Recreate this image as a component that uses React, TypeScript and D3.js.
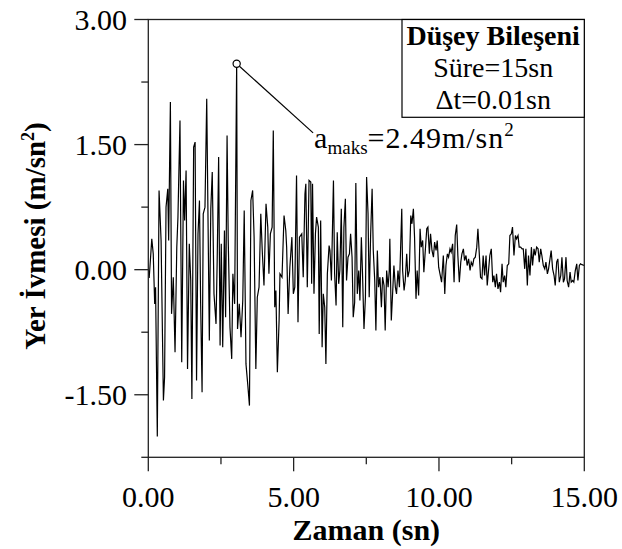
import React from "react";
import * as d3 from "d3";

const times: number[] = [
  0.0, 0.03, 0.06, 0.12, 0.17, 0.22, 0.25, 0.31, 0.37, 0.44, 0.52, 0.56, 0.61, 0.67, 0.7, 0.76, 0.8, 0.86, 0.92, 0.98,
  1.02, 1.09, 1.15, 1.21, 1.25, 1.3, 1.35, 1.41, 1.46, 1.5, 1.56, 1.61, 1.66, 1.71, 1.76, 1.8, 1.85, 1.89, 1.95, 2.01,
  2.07, 2.1, 2.15, 2.2, 2.26, 2.33, 2.37, 2.42, 2.47, 2.51, 2.56, 2.62, 2.66, 2.71, 2.75, 2.81, 2.87, 2.91, 2.97, 3.04,
  3.07, 3.13, 3.19, 3.25, 3.3, 3.36, 3.42, 3.48, 3.53, 3.59, 3.64, 3.7, 3.75, 3.81, 3.87, 3.92, 3.98, 4.05, 4.11, 4.15,
  4.2, 4.26, 4.3, 4.35, 4.39, 4.44, 4.5, 4.53, 4.6, 4.67, 4.73, 4.76, 4.81, 4.87, 4.94, 4.99, 5.04, 5.1, 5.15, 5.2,
  5.28, 5.33, 5.39, 5.42, 5.47, 5.53, 5.59, 5.62, 5.65, 5.7, 5.75, 5.79, 5.85, 5.88, 5.93, 5.98, 6.02, 6.07, 6.11, 6.16,
  6.22, 6.25, 6.3, 6.37, 6.41, 6.46, 6.5, 6.55, 6.59, 6.64, 6.69, 6.73, 6.78, 6.82, 6.87, 6.92, 6.96, 7.01, 7.05, 7.1,
  7.14, 7.19, 7.24, 7.28, 7.33, 7.37, 7.42, 7.47, 7.51, 7.56, 7.6, 7.65, 7.7, 7.74, 7.79, 7.83, 7.88, 7.92, 7.97, 8.02,
  8.06, 8.11, 8.15, 8.2, 8.25, 8.29, 8.31, 8.36, 8.41, 8.45, 8.5, 8.54, 8.59, 8.64, 8.68, 8.72, 8.75, 8.8, 8.84, 8.89,
  8.93, 8.98, 9.03, 9.07, 9.12, 9.16, 9.21, 9.25, 9.3, 9.35, 9.39, 9.44, 9.48, 9.53, 9.58, 9.62, 9.67, 9.71, 9.76, 9.81,
  9.85, 9.9, 9.94, 9.99, 10.09, 10.15, 10.2, 10.24, 10.29, 10.33, 10.38, 10.42, 10.47, 10.52, 10.56, 10.61, 10.65, 10.7, 10.75, 10.79,
  10.84, 10.88, 10.93, 10.97, 11.02, 11.07, 11.11, 11.16, 11.2, 11.25, 11.3, 11.34, 11.39, 11.43, 11.48, 11.52, 11.57, 11.62, 11.66, 11.71,
  11.75, 11.8, 11.85, 11.89, 11.94, 11.98, 12.03, 12.08, 12.12, 12.17, 12.21, 12.26, 12.3, 12.35, 12.4, 12.44, 12.49, 12.53, 12.58, 12.63,
  12.67, 12.72, 12.76, 12.81, 12.86, 12.9, 12.95, 12.99, 13.04, 13.08, 13.13, 13.18, 13.22, 13.27, 13.31, 13.36, 13.41, 13.45, 13.5, 13.54,
  13.59, 13.64, 13.68, 13.73, 13.77, 13.82, 13.86, 13.91, 13.96, 14.0, 14.05, 14.09, 14.14, 14.19, 14.23, 14.28, 14.32, 14.37, 14.41, 14.46,
  14.51, 14.55, 14.6, 14.64, 14.69, 14.74, 14.78, 14.83, 14.87, 14.92, 15.0,
];

const accel: number[] = [
  0.0, -0.1, 0.05, 0.37, 0.19, -0.41, -0.21, -2.0, 0.95, 0.35, -1.57, -1.29, 0.75, 0.97, 0.35, 2.01, -0.53, -0.09, -0.99, 0.27,
  0.63, 1.79, -1.11, 1.07, 0.59, 1.19, -1.19, 0.31, -0.13, -1.55, 1.47, 1.53, -1.33, 0.43, 0.83, -0.39, -1.47, 0.67, 0.75, 2.05,
  0.11, -0.85, 0.73, 1.17, -0.29, -0.65, 0.11, 1.35, -0.91, 0.31, -0.93, 0.47, -0.57, 1.61, 0.35, -0.69, -1.07, -0.05, -0.41, 2.47,
  -0.71, -0.41, -0.81, -0.37, 0.71, -1.13, -1.37, -1.63, 0.83, 0.95, 0.39, -1.19, -0.33, -0.21, 0.67, 0.23, -0.19, 0.79, 0.51, -0.05,
  0.43, 0.51, 1.67, -0.45, -0.25, -1.23, -0.61, -0.05, -0.09, 0.65, 0.47, 0.27, -0.53, 0.03, 0.39, -0.29, -0.21, 1.13, -0.63, 0.39,
  0.43, -0.09, 0.91, 1.03, -0.21, 1.07, 1.05, -0.17, 1.03, -0.29, 0.43, 0.63, 0.51, -0.77, 0.59, -0.93, -0.29, -0.45, -1.13, -0.05,
  0.29, 0.23, -0.13, 1.07, -0.05, -0.43, 0.45, -0.17, -0.01, 0.73, -0.69, 0.51, 0.85, -0.13, 0.15, 0.19, 0.43, 0.15, -0.57, -0.39,
  1.04, -0.29, -0.01, -0.37, 0.39, -0.05, -0.71, -0.33, 1.11, 0.67, -0.33, 0.43, 0.97, 0.23, -0.13, -0.73, 0.23, -0.21, -0.09, -0.45,
  -0.09, -0.19, -0.73, -0.01, -0.21, -0.01, 0.37, -0.61, -0.25, 0.05, -0.21, -0.29, -0.01, -0.21, 0.25, 0.73, -0.01, -0.25, -0.13, 0.19,
  -0.09, -0.01, 0.65, 0.55, 0.73, 0.39, -0.35, -0.01, -0.31, 0.49, 0.27, 0.35, -0.03, 0.23, 0.49, 0.51, 0.19, 0.43, 0.23, 0.15,
  0.33, 0.23, 0.35, 0.03, -0.15, 0.17, -0.29, 0.05, 0.19, 0.15, 0.25, 0.21, 0.31, -0.15, 0.41, 0.54, 0.17, -0.15, 0.09, 0.19,
  0.25, 0.11, 0.17, 0.05, 0.13, -0.01, 0.09, 0.05, 0.13, 0.15, 0.27, 0.49, 0.17, -0.09, -0.11, 0.17, -0.07, 0.17, -0.19, 0.01,
  0.17, 0.25, -0.15, -0.07, -0.21, -0.05, -0.23, -0.15, -0.27, 0.07, -0.15, -0.07, -0.21, 0.05, 0.07, 0.41, 0.43, 0.51, 0.17, 0.41,
  0.37, 0.41, 0.27, 0.27, 0.25, 0.25, 0.01, 0.25, -0.19, 0.17, -0.07, 0.27, 0.05, 0.25, 0.17, 0.27, 0.25, 0.09, 0.25, 0.17,
  0.05, 0.01, 0.09, -0.05, 0.01, 0.13, 0.23, 0.01, -0.07, -0.19, 0.09, 0.13, -0.15, -0.07, 0.15, -0.15, -0.11, 0.15, -0.13, -0.21,
  -0.03, -0.15, -0.13, -0.15, -0.01, 0.07, -0.13, 0.05, 0.07, 0.06, 0.05,
];

const xMajorTicks = [0, 5, 10, 15];
const xMinorTicks = [2.5, 7.5, 12.5];
const yMajorTicks = [-1.5, 0, 1.5, 3];
const yMinorTicks = [-2.25, -0.75, 0.75, 2.25];

const xTitle = "Zaman (sn)";
const yTitle = "Yer İvmesi (m/sn";
const legendLines = ["Düşey Bileşeni", "Süre=15sn", "Δt=0.01sn"];
const peakT = 3.04;
const peakA = 2.47;
const leaderEnd = { t: 5.67, a: 1.64 };

const W = 622;
const H = 549;
const FONT = "'Liberation Serif','Times New Roman',serif";

export default function App() {
  const x = d3.scaleLinear().domain([0, 15]).range([148.3, 584.3]);
  const y = d3.scaleLinear().domain([-2.25, 3]).range([457.3, 19.5]);
  const pts: [number, number][] = times.map((t, i) => [t, accel[i]]);
  const line = d3
    .line<[number, number]>()
    .x((d) => x(d[0]))
    .y((d) => y(d[1]));
  const [x0, x1] = x.range();
  const [yb, yt] = y.range();
  const axisColor = "#222";

  return (
    <svg
      width={W}
      height={H}
      style={{ position: "absolute", left: 0, top: 0, background: "#fff" }}
      fontFamily={FONT}
    >
      <defs>
        <clipPath id="plotclip">
          <rect x={x0} y={yt} width={x1 - x0} height={yb - yt} />
        </clipPath>
      </defs>
      <rect x={0} y={0} width={W} height={H} fill="#fff" />
      <path
        d={line(pts) || ""}
        fill="none"
        stroke="#000"
        strokeWidth={1.2}
        strokeLinejoin="miter"
        clipPath="url(#plotclip)"
      />
      {/* frame */}
      <rect x={x0} y={yt} width={x1 - x0} height={yb - yt} fill="none" stroke={axisColor} strokeWidth={1.3} />
      {/* x ticks */}
      {xMajorTicks.map((t) => (
        <line key={"xM" + t} x1={x(t)} x2={x(t)} y1={yb} y2={yb + 14} stroke={axisColor} strokeWidth={1.3} />
      ))}
      {xMinorTicks.map((t) => (
        <line key={"xm" + t} x1={x(t)} x2={x(t)} y1={yb} y2={yb + 7} stroke={axisColor} strokeWidth={1.3} />
      ))}
      {xMajorTicks.map((t) => (
        <text key={"xl" + t} x={x(t)} y={506.7} fontSize={30} textAnchor="middle" fill="#000">
          {t.toFixed(2)}
        </text>
      ))}
      {/* y ticks */}
      {yMajorTicks.map((v) => (
        <line key={"yM" + v} x1={x0 - 14} x2={x0} y1={y(v)} y2={y(v)} stroke={axisColor} strokeWidth={1.3} />
      ))}
      {yMinorTicks.map((v) => (
        <line key={"ym" + v} x1={x0 - 7} x2={x0} y1={y(v)} y2={y(v)} stroke={axisColor} strokeWidth={1.3} />
      ))}
      {yMajorTicks.map((v) => (
        <text key={"yl" + v} x={127} y={y(v) + 10.5} fontSize={30} textAnchor="end" fill="#000">
          {v.toFixed(2)}
        </text>
      ))}
      {/* axis titles */}
      <text x={(x0 + x1) / 2} y={540} fontSize={30} fontWeight="bold" textAnchor="middle" fill="#000">
        {xTitle}
      </text>
      <text transform="translate(45,236) rotate(-90)" fontSize={29} fontWeight="bold" textAnchor="middle" fill="#000">
        {yTitle}
        <tspan fontSize={18} dy={-11}>2</tspan>
        <tspan dy={11}>)</tspan>
      </text>
      {/* legend box */}
      <rect x={402} y={yt} width={x1 - 402} height={117.3 - yt} fill="#fff" stroke="#000" strokeWidth={1.2} />
      {legendLines.map((s, i) => (
        <text
          key={s}
          x={(402 + x1) / 2}
          y={45 + i * 32}
          fontSize={28}
          fontWeight={i === 0 ? "bold" : "normal"}
          textAnchor="middle"
          fill="#000"
        >
          {s}
        </text>
      ))}
      {/* peak annotation */}
      <line
        x1={x(peakT)}
        y1={y(peakA)}
        x2={x(leaderEnd.t)}
        y2={y(leaderEnd.a)}
        stroke="#000"
        strokeWidth={1.2}
      />
      <circle cx={x(peakT)} cy={y(peakA)} r={3.6} fill="#fff" stroke="#000" strokeWidth={1.2} />
      <text x={x(leaderEnd.t) + 1} y={148} fontSize={30} fill="#000">
        a
        <tspan fontSize={19} dy={6}>maks</tspan>
        <tspan fontSize={30} dy={-6} letterSpacing={1}>=2.49m/sn</tspan>
        <tspan fontSize={19} dy={-12}>2</tspan>
      </text>
    </svg>
  );
}
